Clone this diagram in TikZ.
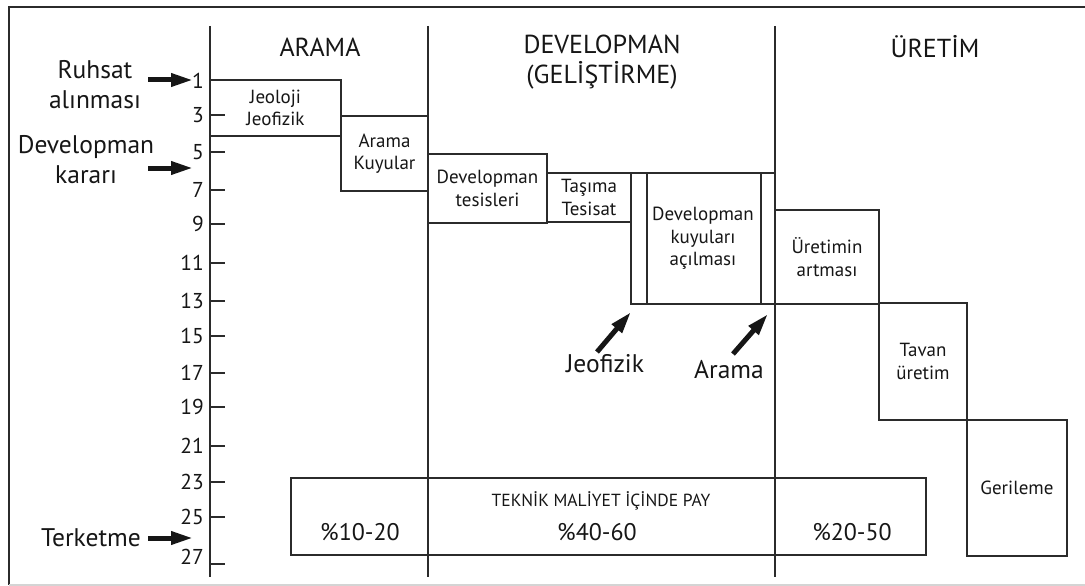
\documentclass[tikz,border=0pt]{standalone}
\usepackage{fontspec}
\setmainfont{PT Sans}
\usetikzlibrary{arrows.meta}

\definecolor{ink}{HTML}{2B2B2B}
\definecolor{txt}{HTML}{161616}
\definecolor{rim}{HTML}{D4D4D4}

\begin{document}
\begin{tikzpicture}[x=1pt,y=-1pt,
  rule/.style={draw=ink,line width=1.8pt},
  phasebox/.style={rule,rectangle,inner sep=0pt,outer sep=0pt,anchor=north west,
    align=center,text=txt,font=\fontsize{19}{22.5}\selectfont},
  heading/.style={text=txt,align=center,font=\fontsize{26}{30}\selectfont},
  sidelabel/.style={text=txt,align=center,font=\fontsize{25.5}{30}\selectfont},
  num/.style={text=txt,anchor=east,inner sep=0pt,font=\fontsize{21.5}{24}\selectfont},
  share/.style={text=txt,font=\fontsize{24}{26}\selectfont},
  blockarrow/.style={draw=txt,fill=txt,line width=5pt,
    -{Triangle[length=22pt,width=12.5pt]}}]
\useasboundingbox (0,0) rectangle (1085,586);

% outer frame
\draw[draw=ink,line width=2pt] (1090,7) -- (9,7) -- (9,585);
\draw[draw=rim,line width=1.6pt] (9,585) -- (1090,585);

% time axis and phase separators
\draw[rule] (210,26) -- (210,577);
\draw[rule] (428,26) -- (428,577);
\draw[rule] (775,26) -- (775,577);

% phase headings
\node[heading] (hArama) at (320,47) {ARAMA};
\node[heading] (hDev) at (602,62) {DEVELOPMAN\\(GELİŞTİRME)};
\node[heading] (hUretim) at (935,47) {ÜRETİM};

% ticks and year numbers
\node[num] (t1) at (204,81) {1};
\foreach \n/\yy in {3/115,5/152,7/190,9/224,11/263,13/301,15/336,17/373,19/407,21/446,23/482,25/517}{
  \draw[rule] (210,\yy) -- (225,\yy);
  \node[num] (t\n) at (204,\yy) {\n};
}
\draw[rule] (210,564) -- (225,564);
\node[num] (t27) at (204,557) {27};

% milestones on the left
\node[sidelabel] (ruhsat) at (95,85) {Ruhsat\\alınması};
\node[sidelabel] (karar) at (86,160) {Developman\\kararı};
\node[sidelabel] (terk) at (91,538) {Terketme};
\coordinate (ruhsatA) at (148,80);  \coordinate (ruhsatB) at (193,80);
\coordinate (kararA) at (148,168);  \coordinate (kararB) at (193,168);
\coordinate (terkA) at (148,538);   \coordinate (terkB) at (193,538);
\draw[blockarrow] (ruhsatA) -- (ruhsatB);
\draw[blockarrow] (kararA) -- (kararB);
\draw[blockarrow] (terkA) -- (terkB);

% activity blocks
\node[phasebox,minimum width=131pt,minimum height=56pt] (jeo) at (210,80) {Jeoloji\\Jeofizik};
\node[phasebox,minimum width=87pt,minimum height=75pt] (akuyu) at (341,116) {Arama\\Kuyular};
\node[phasebox,minimum width=119pt,minimum height=69pt] (dtes) at (428,154) {Developman\\tesisleri};
\node[phasebox,minimum width=84pt,minimum height=49pt] (tasima) at (547,173) {Taşıma\\Tesisat};
\node[phasebox,minimum width=144pt,minimum height=131pt] (dkuyu) at (631,173) {Developman\\kuyuları\\açılması};
\draw[rule] ([xshift=16pt]dkuyu.north west) -- ([xshift=16pt]dkuyu.south west);
\draw[rule] ([xshift=-14pt]dkuyu.north east) -- ([xshift=-14pt]dkuyu.south east);
\node[phasebox,minimum width=104pt,minimum height=94pt] (artma) at (775,210) {Üretimin\\artması};
\node[phasebox,minimum width=88pt,minimum height=117pt] (tavan) at (879,303) {Tavan\\üretim};
\node[phasebox,minimum width=100pt,minimum height=136pt] (geri) at (967,420) {Gerileme};

% well types drilled during development
\node[sidelabel] (jeof) at (605,364) {Jeofizik};
\node[sidelabel] (aram) at (729,370) {Arama};
\coordinate (jeofA) at (597,352); \coordinate (jeofB) at (631,312);
\coordinate (aramA) at (733,354); \coordinate (aramB) at (768,314);
\draw[blockarrow] (jeofA) -- (jeofB);
\draw[blockarrow] (aramA) -- (aramB);

% share of technical cost
\node[rule,rectangle,inner sep=0pt,outer sep=0pt,anchor=north west,
  minimum width=635pt,minimum height=77pt] (pay) at (291,478) {};
\node[text=txt,font=\fontsize{17.5}{20}\selectfont] (payT) at (601,501) {TEKNİK MALİYET İÇİNDE PAY};
\node[share] (p1) at (360,532) {\%10-20};
\node[share] (p2) at (597,532) {\%40-60};
\node[share] (p3) at (852,532) {\%20-50};
\end{tikzpicture}
\end{document}
